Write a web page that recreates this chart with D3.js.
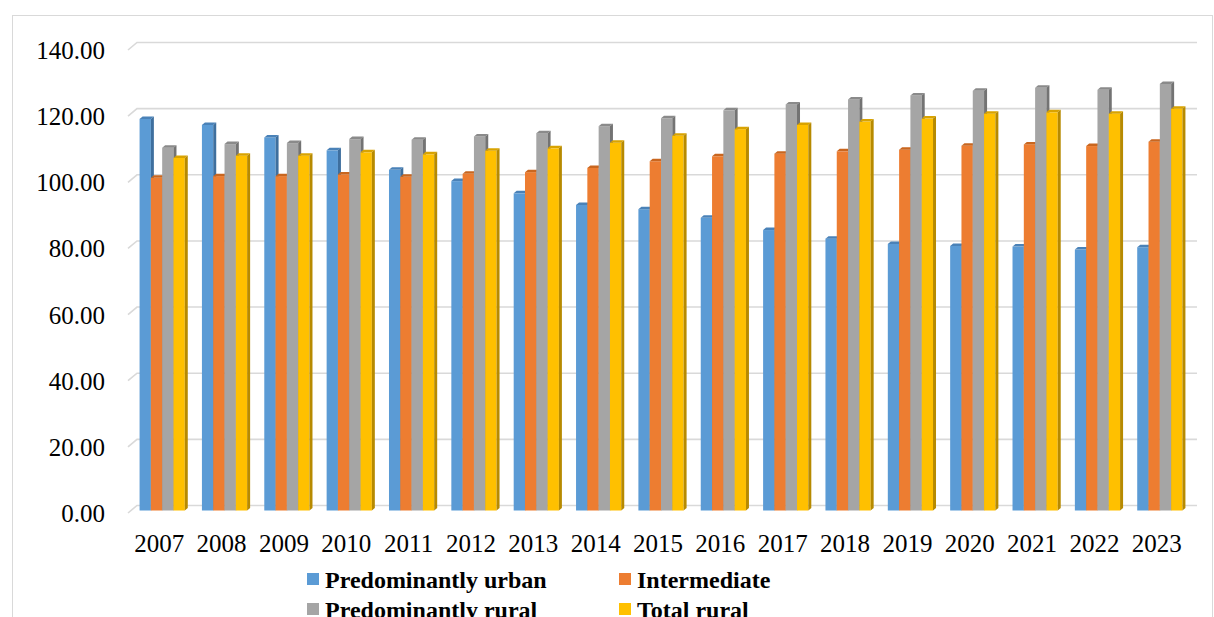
<!DOCTYPE html>
<html>
<head>
<meta charset="utf-8">
<script src="https://cdn.jsdelivr.net/npm/d3@7"></script>
<style>
  html, body { margin: 0; padding: 0; background: #fff; }
  svg { display: block; }
</style>
</head>
<body>
<div id="chart"></div>
<script>
// Index values by region type, 2007–2023
const years = ["2007","2008","2009","2010","2011","2012","2013","2014","2015","2016","2017","2018","2019","2020","2021","2022","2023"];
const seriesNames = ["Predominantly urban", "Intermediate", "Predominantly rural", "Total rural"];
const urban        = [118.4,116.6,112.8,108.9,103.0, 99.6, 95.9, 92.4, 91.1, 88.5, 84.8, 82.2, 80.6, 80.0, 79.8, 78.9, 79.6];
const intermediate = [100.6,101.1,101.1,101.6,100.9,101.8,102.3,103.6,105.6,107.1,107.9,108.6,109.1,110.3,110.7,110.2,111.5];
const rural        = [109.7,110.8,111.1,112.3,112.1,113.1,114.1,116.2,118.6,121.0,122.8,124.3,125.5,126.9,127.8,127.2,129.0];
const totalRural   = [106.6,107.3,107.3,108.3,107.7,108.8,109.5,111.2,113.3,115.3,116.6,117.6,118.5,120.0,120.4,120.0,121.5];
const yTicks = [0, 20, 40, 60, 80, 100, 120, 140];

const seriesValues = [urban, intermediate, rural, totalRural];
const frontColors = ["#5B9BD5", "#ED7D31", "#A5A5A5", "#FFC000"];
const sideColors  = ["#3E6F9E", "#B05A20", "#737373", "#B78A00"];
const topColors   = ["#4A82B8", "#C9661F", "#8A8A8A", "#D9A300"];

const W = 1214, H = 617;
const svg = d3.select("#chart").append("svg").attr("width", W).attr("height", H);

svg.append("rect").attr("width", W).attr("height", H).attr("fill", "#fff");
// outer chart frame
svg.append("rect").attr("x", 12.5).attr("y", 15.5).attr("width", 1200).attr("height", 640)
  .attr("fill", "none").attr("stroke", "#D9D9D9").attr("stroke-width", 1);

// front plane scales; the back wall is shifted by the depth vector
const x = d3.scaleBand().domain(years).range([128, 1188]).paddingInner(0.275).paddingOuter(0.1375);
const y = d3.scaleLinear().domain([0, 140]).range([513, 50]);
const xs = d3.scaleBand().domain(seriesNames).range([0, x.bandwidth()]);
const depth = { dx: 9, dy: -7.5 };
const x0 = x.range()[0], x1 = x.range()[1];

// gridlines: back wall lines plus the short side-wall diagonals
const grid = svg.append("g").attr("stroke", "#D9D9D9").attr("stroke-width", 1.6).attr("fill", "none");
yTicks.forEach(t => {
  grid.append("path").attr("d",
    `M${x0},${y(t)} L${x0 + depth.dx},${y(t) + depth.dy} L${x1 + depth.dx},${y(t) + depth.dy}`);
});

// y axis labels
const yAxis = svg.append("g").attr("transform", `translate(${x0},0)`)
  .call(d3.axisLeft(y).tickValues(yTicks).tickFormat(d3.format(".2f")).tickSize(0).tickPadding(23));
yAxis.select(".domain").remove();
yAxis.selectAll("text").attr("font-family", "'Liberation Serif', 'Times New Roman', serif")
  .attr("font-size", 25).attr("fill", "#000").attr("dy", "0.34em");

// x axis labels
const xAxis = svg.append("g").attr("transform", `translate(0,${y(0)})`)
  .call(d3.axisBottom(x).tickSize(0).tickPadding(21.5));
xAxis.select(".domain").remove();
xAxis.selectAll("text").attr("font-family", "'Liberation Serif', 'Times New Roman', serif")
  .attr("font-size", 25).attr("fill", "#000");

// 3D bars: front face at 1/3 depth, back at 2/3 depth
const bf = { dx: depth.dx / 3, dy: depth.dy / 3 };
const bd = { dx: depth.dx / 3, dy: depth.dy / 3 };
const bars = svg.append("g");
years.forEach((yr, i) => {
  seriesNames.forEach((s, j) => {
    const v = seriesValues[j][i];
    const left = x(yr) + xs(s) + bf.dx;
    const right = left + xs.bandwidth();
    const top = y(v) + bf.dy;
    const bottom = y(0) + bf.dy;
    const g = bars.append("g");
    g.append("rect").attr("x", left).attr("y", top).attr("width", xs.bandwidth()).attr("height", bottom - top)
      .attr("fill", frontColors[j]);
    g.append("path").attr("d",
      `M${left},${top} L${left + bd.dx},${top + bd.dy} L${right + bd.dx},${top + bd.dy} L${right},${top} Z`)
      .attr("fill", topColors[j]);
    g.append("path").attr("d",
      `M${right},${top} L${right + bd.dx},${top + bd.dy} L${right + bd.dx},${bottom + bd.dy} L${right},${bottom} Z`)
      .attr("fill", sideColors[j]);
  });
});

// legend
const legendX = [307, 619];
const legendY = [573, 603];
const legend = svg.append("g");
seriesNames.forEach((s, j) => {
  const lx = legendX[j % 2], ly = legendY[Math.floor(j / 2)];
  legend.append("rect").attr("x", lx).attr("y", ly).attr("width", 12).attr("height", 12).attr("fill", frontColors[j]);
  legend.append("text").attr("x", lx + 18).attr("y", ly + 14.5)
    .attr("font-family", "'Liberation Serif', 'Times New Roman', serif")
    .attr("font-weight", "bold").attr("font-size", 24).attr("fill", "#000").text(s);
});
</script>
</body>
</html>
